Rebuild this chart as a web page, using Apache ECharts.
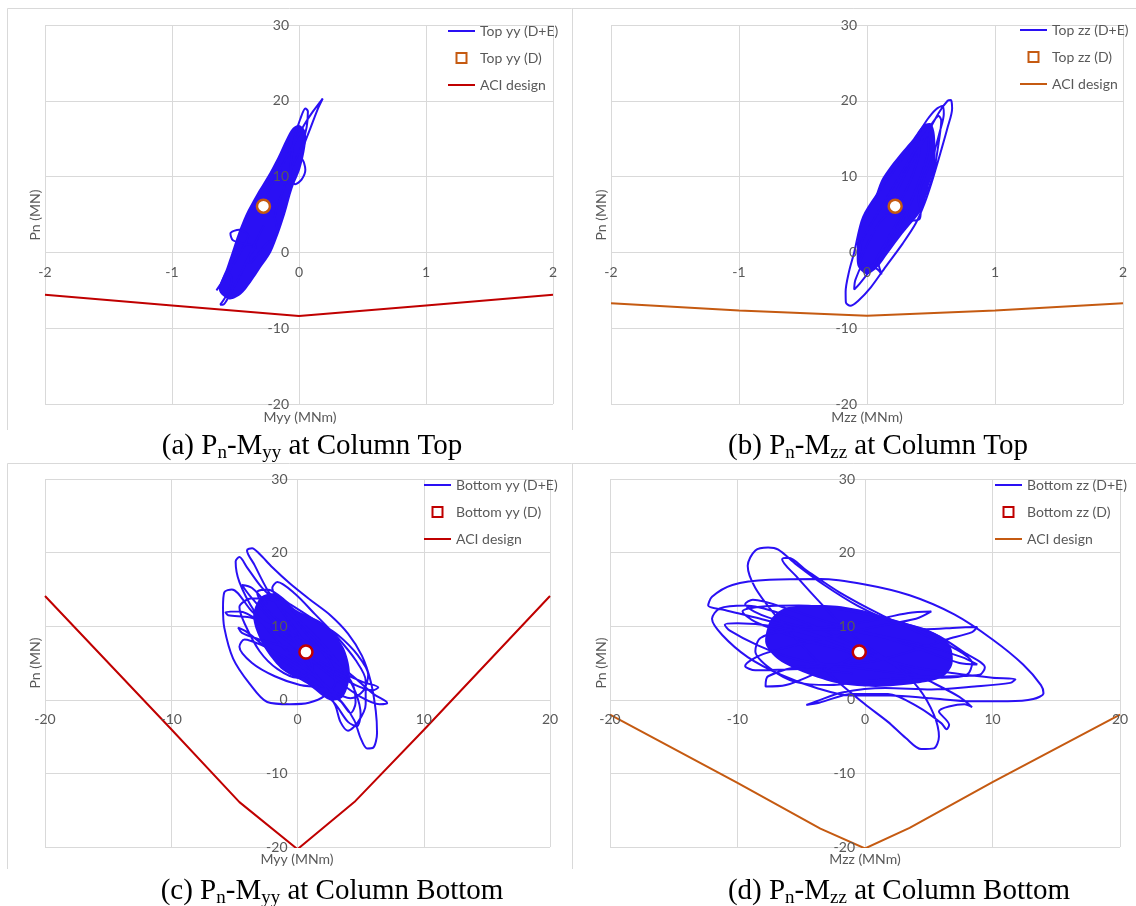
<!DOCTYPE html>
<html>
<head>
<meta charset="utf-8">
<script src="https://cdn.jsdelivr.net/npm/echarts@6/dist/echarts.min.js"></script>
<style>
  html, body { margin: 0; padding: 0; background: #fff; }
  #chart { width: 1136px; height: 906px; }
</style>
</head>
<body>
<div id="chart"></div>
<script>
// axis ranges [min, max, interval]
const xRangeTop = [-2, 2, 1]
const xRangeBottom = [-20, 20, 10]
const yRange = [-20, 30, 10]

// ACI design envelopes
const aciTopYy = [[-2, -5.6], [-1, -7.0], [0, -8.4], [1, -7.0], [2, -5.6]]
const aciTopZz = [[-2, -6.7], [-1, -7.65], [0, -8.35], [1, -7.65], [2, -6.7]]
const aciBottomYy = [[-20, 14.1], [-10, -4.0], [-4.6, -13.9], [0, -20.3], [4.5, -13.9], [10, -4.1], [20, 14.1]]
const aciBottomZz = [[-20, -2.0], [-10, -11.3], [-3.5, -17.5], [0, -20.2], [3.5, -17.4], [10, -11.2], [20, -2.0]]

// dead load points (D)
const topYyDead = [[-0.28, 6.1]]
const topZzDead = [[0.22, 6.1]]
const bottomYyDead = [[0.67, 6.5]]
const bottomZzDead = [[-0.45, 6.5]]

// dense part of the D+E response (outline of the fully inked area)
const topYyCore = [[-0.63, -5.0], [-0.57, -2.0], [-0.53, 0.0], [-0.48, 2.5], [-0.42, 5.0], [-0.34, 7.5], [-0.25, 10.0],
  [-0.17, 12.5], [-0.10, 15.0], [-0.05, 16.4], [0.0, 16.8], [0.05, 16.0], [0.05, 14.0], [0.01, 11.0], [-0.05, 8.5],
  [-0.11, 5.0], [-0.16, 2.5], [-0.22, 0.0], [-0.30, -2.0], [-0.38, -4.0], [-0.46, -5.6], [-0.55, -6.2]]
const topZzCore = [[-0.07, -1.9], [-0.08, 0], [-0.07, 2.5], [-0.02, 5.1], [0.06, 7.3], [0.11, 9.5], [0.18, 11.3],
  [0.28, 13.4], [0.36, 15.0], [0.44, 16.8], [0.50, 17.0], [0.53, 15.5], [0.53, 11.3], [0.48, 8.65], [0.44, 6.0],
  [0.39, 4.7], [0.28, 2.5], [0.165, -0.1], [0.08, -2.0], [0.0, -2.9]]
const bottomYyCore = [[-2.87, 14.0], [-1.68, 14.4], [-0.09, 12.2], [2.03, 10.4], [3.62, 7.2], [4.15, 3.6], [3.62, 0.4],
  [2.56, -0.07], [0.71, 2.2], [-1.15, 4.0], [-2.48, 6.7], [-3.27, 9.45], [-3.5, 11.7]]
const bottomZzCore = [[-5.97, 12.6], [-2.83, 12.85], [-0.22, 12.2], [2.4, 10.8], [5.03, 9.45], [6.6, 7.6], [6.86, 4.9],
  [6.08, 3.1], [3.98, 2.2], [0.84, 1.74], [-2.04, 2.2], [-4.66, 3.6], [-6.76, 5.4], [-7.8, 7.6], [-7.54, 10.4], [-7.0, 11.7]]

// D+E trajectories (loops)
const topYyLoop = [
  [-0.30, 6.0], [-0.18, 10.0], [-0.05, 14.0], [0.04, 16.8], [0.11, 18.6], [0.187, 20.3],
  [0.15, 19.0], [0.09, 16.4], [0.04, 14.2], [0.02, 12.6], [0.04, 11.8], [0.05, 10.9],
  [0.02, 9.6], [-0.03, 9.0], [-0.07, 10.2], [-0.06, 12.5], [-0.03, 15.5], [0.01, 17.6],
  [0.05, 19.0], [0.07, 18.6], [0.06, 16.5], [0.02, 14.0], [-0.06, 11.0], [-0.14, 7.5],
  [-0.19, 4.6], [-0.17, 3.0], [-0.20, 1.9], [-0.27, 0.9], [-0.34, -0.6], [-0.39, -1.4],
  [-0.40, -0.8], [-0.34, 0.8], [-0.42, 1.1], [-0.52, 1.6], [-0.54, 2.5], [-0.47, 3.0],
  [-0.40, 2.2], [-0.48, -0.5], [-0.57, -3.0], [-0.65, -5.0], [-0.63, -4.6], [-0.56, -2.6],
  [-0.53, -3.6], [-0.57, -5.6], [-0.62, -6.9], [-0.60, -6.9], [-0.54, -5.4], [-0.47, -3.2],
  [-0.38, 0.0], [-0.28, 3.5]
]
const topZzLoop = [
  [0.20, 7.0], [0.32, 11.0], [0.45, 15.0], [0.56, 18.4], [0.63, 20.0], [0.655, 20.1], [0.665, 19.0],
  [0.63, 16.5], [0.58, 13.5], [0.51, 9.5], [0.45, 6.5], [0.38, 3.8], [0.28, 1.2], [0.145, -1.9],
  [0.03, -4.6], [-0.07, -6.4], [-0.13, -7.05], [-0.165, -6.6], [-0.167, -5.2], [-0.14, -2.5],
  [-0.10, 0.0], [-0.03, 4.7], [0.12, 8.65], [0.26, 12.0], [0.37, 14.8], [0.47, 17.5], [0.54, 18.9],
  [0.59, 19.3], [0.60, 18.3], [0.57, 16.0], [0.52, 13.0], [0.44, 9.5], [0.40, 7.0], [0.42, 5.5],
  [0.41, 4.4], [0.35, 4.2], [0.30, 5.6], [0.22, 3.5], [0.12, 0.5], [0.03, -2.2], [-0.06, -4.2],
  [-0.10, -4.9], [-0.09, -3.6], [-0.02, -1.5], [0.08, -2.2], [0.115, -2.9], [0.09, -1.4], [0.16, 0.8],
  [0.30, 5.0], [0.42, 10.0], [0.48, 13.8], [0.47, 15.6], [0.43, 15.2], [0.40, 12.5], [0.34, 9.5], [0.25, 6.5],
  [0.10, 4.0], [0.0, 1.0], [-0.06, -1.5], [-0.04, 1.5], [0.06, 4.5], [0.20, 8.5], [0.36, 13.0],
  [0.50, 16.8], [0.56, 18.0], [0.58, 17.4], [0.56, 14.5], [0.52, 10.5], [0.46, 7.5]
]
const bottomYyLoop = [
  [0.5, 8.0], [-1.0, 11.5], [-2.4, 15.0], [-3.4, 18.3], [-4.0, 20.3], [-3.6, 20.6], [-3.0, 19.8],
  [-2.0, 18.0], [-0.6, 15.8], [1.0, 13.6], [2.6, 11.5], [4.0, 9.0], [5.1, 6.0], [5.8, 2.5],
  [6.2, -1.5], [6.3, -4.5], [6.0, -6.5], [5.5, -6.6], [5.0, -5.2], [4.5, -2.8], [3.6, -0.5],
  [2.2, 2.0], [0.4, 4.6], [-1.6, 8.0], [-3.4, 12.0], [-4.6, 16.0], [-4.9, 18.8], [-4.6, 19.4],
  [-4.0, 18.0], [-2.8, 15.2], [-1.2, 12.6], [0.6, 10.0], [2.2, 7.2], [3.6, 4.2], [4.6, 1.0],
  [5.0, -2.0], [4.7, -3.6], [4.0, -3.0], [3.0, -0.6], [1.6, 1.8], [-0.4, 4.4], [-2.4, 7.0],
  [-4.0, 9.2], [-4.7, 9.8], [-4.4, 9.1], [-3.0, 8.2], [-1.0, 7.2], [1.4, 5.6], [3.4, 3.8],
  [5.2, 2.4], [6.4, 1.7], [6.0, 1.3], [4.6, 2.0], [2.4, 4.2], [-0.2, 7.4], [-2.6, 10.2],
  [-4.6, 12.0], [-5.7, 11.9], [-5.5, 11.5], [-3.8, 11.2], [-1.6, 9.8], [0.4, 8.2], [2.4, 6.0],
  [4.4, 3.2], [6.0, 0.8], [7.0, -0.2], [7.1, -0.5], [6.5, -0.6], [5.0, 0.4], [3.0, 2.8],
  [1.0, 5.5], [-1.4, 8.8], [-3.6, 12.0], [-5.2, 15.0], [-5.8, 14.6], [-5.9, 12.5], [-5.8, 9.8],
  [-5.1, 5.6], [-3.8, 2.2], [-2.4, -0.3], [-0.6, -0.6], [0.9, -0.4], [2.2, 0.6], [3.0, 2.4],
  [2.6, 5.0], [1.0, 8.4], [-0.8, 12.2], [-2.0, 15.2], [-1.6, 16.0], [-0.2, 14.4], [1.4, 11.6],
  [3.2, 8.4], [4.6, 5.4], [5.4, 2.6], [5.4, -0.6], [4.8, -3.0], [4.0, -4.2], [3.4, -3.0],
  [3.0, -0.8], [2.0, 2.2], [0.5, 5.5], [-0.5, 9.0], [-2.6, 12.6], [-3.2, 14.6], [-2.4, 15.0],
  [-0.6, 13.0], [1.4, 10.8], [3.2, 8.8], [4.8, 6.0], [5.6, 3.4], [5.2, 1.2], [4.2, 0.2],
  [2.8, 1.2], [1.2, 3.4], [-0.8, 5.6], [-2.8, 7.4], [-4.2, 8.2], [-4.6, 7.2], [-3.6, 5.0],
  [-1.8, 3.2], [0.2, 2.0], [1.8, 1.6], [3.4, -0.2], [4.2, -1.8], [4.6, -0.4], [4.4, 2.0],
  [3.4, 4.6], [1.8, 7.8], [0.0, 11.0], [-1.4, 13.2], [-3.6, 13.8], [-4.6, 12.6], [-4.2, 10.4],
  [-3.0, 6.6], [-1.6, 4.2], [0.0, 3.0], [1.2, 4.4], [0.2, 7.2], [-1.8, 10.4], [-3.8, 14.2],
  [-4.4, 15.6], [-3.6, 15.2], [-2.4, 13.0]
]
const bottomZzLoop = [
  [-1.0, 7.0], [-4.5, 9.2], [-8.2, 11.0], [-11.0, 12.2], [-12.3, 12.8], [-12.0, 14.0], [-10.4, 15.6],
  [-7.5, 16.3], [-3.5, 16.4], [-0.1, 15.7], [3.5, 14.2], [7.0, 11.6], [10.0, 8.2], [12.4, 4.8],
  [13.8, 2.0], [14.0, 0.9], [13.2, 0.1], [11.2, -0.2], [8.4, -0.2], [5.2, 0.2], [2.0, 0.6],
  [-1.2, 0.6], [-3.8, 1.6], [-6.6, 3.4], [-9.2, 5.8], [-11.2, 8.8], [-12.0, 11.0], [-11.4, 12.4],
  [-9.4, 12.8], [-6.4, 11.6], [-3.2, 9.4], [-0.2, 7.0], [2.4, 4.6], [4.2, 1.6], [5.4, -2.0],
  [5.8, -5.0], [5.4, -6.6], [4.4, -6.7], [3.2, -5.2], [1.8, -3.0], [0.0, -0.6], [-2.2, 2.6],
  [-4.4, 6.4], [-6.8, 11.0], [-8.6, 15.2], [-9.2, 18.2], [-8.6, 20.3], [-7.6, 20.7], [-6.8, 20.4],
  [-5.4, 18.4], [-3.2, 15.6], [-0.6, 12.8], [2.2, 10.6], [4.8, 9.6], [7.2, 9.8], [8.8, 9.9],
  [8.4, 9.2], [6.4, 8.2], [3.6, 6.6], [0.6, 5.2], [-2.6, 4.8], [-5.6, 5.6], [-8.4, 7.4],
  [-10.6, 9.4], [-11.0, 10.2], [-10.0, 10.4], [-7.2, 10.0], [-3.8, 8.6], [-0.2, 6.4], [3.4, 4.6],
  [7.0, 3.6], [10.0, 3.0], [11.8, 2.8], [11.4, 2.3], [8.6, 1.8], [5.2, 1.4], [1.6, 1.6],
  [-1.8, 1.0], [-3.8, -0.2], [-4.6, -0.7], [-3.6, -0.4], [-1.0, 0.8], [1.8, 0.8], [4.2, -1.0],
  [6.0, -3.2], [6.4, -4.0], [6.6, -3.4], [5.8, -1.6], [7.8, -0.6], [8.4, -1.0], [7.4, 0.4],
  [5.0, 2.6], [2.0, 5.2], [-1.0, 8.8], [-3.4, 13.0], [-5.4, 16.8], [-6.5, 19.1], [-6.0, 19.3],
  [-4.6, 17.6], [-2.0, 14.6], [1.2, 11.6], [4.4, 9.0], [7.0, 7.0], [8.4, 5.0], [8.0, 3.4],
  [6.0, 3.0], [2.6, 3.6], [-1.0, 4.4], [-4.6, 4.6], [-7.6, 3.2], [-7.8, 1.8], [-6.2, 2.0],
  [-3.6, 3.8], [-1.0, 6.0], [-5.0, 8.2], [-8.6, 10.6], [-9.6, 12.0], [-8.4, 12.6], [-5.2, 12.8],
  [-1.6, 12.2], [2.2, 10.8], [5.6, 8.8], [7.8, 6.4], [9.4, 4.4], [9.0, 3.4], [6.8, 3.2],
  [3.6, 3.0], [0.4, 2.6], [-2.8, 2.0], [-5.4, 2.4], [-7.4, 4.2], [-8.6, 6.6], [-8.2, 8.4],
  [-6.0, 9.4], [-2.6, 9.6], [1.2, 8.6], [4.8, 6.6], [7.4, 5.0], [8.8, 4.8], [7.6, 5.8],
  [4.2, 7.6], [0.4, 9.0], [-3.0, 10.6], [-5.8, 12.2], [-8.8, 13.6], [-9.4, 13.0], [-7.6, 11.2],
  [-4.0, 9.8], [0.0, 10.6], [3.4, 11.8], [5.2, 12.0], [4.0, 11.0], [0.4, 9.8], [-4.0, 8.0],
  [-8.0, 6.2], [-9.4, 4.6], [-8.6, 4.0], [-5.0, 4.2], [-1.0, 3.6]
]

const BLUE = '#2a10f4'
const RED = '#c00000'
const ORANGE = '#c55a11'
const GRID_COLOR = '#d9d9d9'
const TEXT_COLOR = '#595959'
const FONT = 'Lato, "Open Sans", sans-serif'
const SERIF = '"Liberation Serif", "Times New Roman", serif'
const LINE_ICON = 'path://M0,0H27V2H0Z'
const SQUARE_ICON = 'path://M0,0H10V10H0Z'

const panels = [
  {
    loop: topYyLoop, core: topYyCore, dead: topYyDead, aci: aciTopYy, xRange: xRangeTop,
    names: ['Top yy (D+E)', 'Top yy (D)', 'ACI design'], deadColor: ORANGE, aciColor: RED,
    grid: { left: 45, top: 25, width: 508, height: 379 }, legend: { left: 448, top: 24 },
    xName: 'Myy (MNm)', xNamePos: [300, 417], yNamePos: [35, 215],
    caption: ['a', 'yy', 'Top'], captionPos: [312, 446]
  },
  {
    loop: topZzLoop, core: topZzCore, dead: topZzDead, aci: aciTopZz, xRange: xRangeTop,
    names: ['Top zz (D+E)', 'Top zz (D)', 'ACI design'], deadColor: ORANGE, aciColor: ORANGE,
    grid: { left: 611, top: 25, width: 512, height: 379 }, legend: { left: 1020, top: 23 },
    xName: 'Mzz (MNm)', xNamePos: [867, 417], yNamePos: [601, 215],
    caption: ['b', 'zz', 'Top'], captionPos: [878, 446]
  },
  {
    loop: bottomYyLoop, core: bottomYyCore, dead: bottomYyDead, aci: aciBottomYy, xRange: xRangeBottom,
    names: ['Bottom yy (D+E)', 'Bottom yy (D)', 'ACI design'], deadColor: RED, aciColor: RED,
    grid: { left: 45, top: 479, width: 505, height: 368 }, legend: { left: 424, top: 478 },
    xName: 'Myy (MNm)', xNamePos: [297, 859], yNamePos: [35, 663],
    caption: ['c', 'yy', 'Bottom'], captionPos: [332, 891]
  },
  {
    loop: bottomZzLoop, core: bottomZzCore, dead: bottomZzDead, aci: aciBottomZz, xRange: xRangeBottom,
    names: ['Bottom zz (D+E)', 'Bottom zz (D)', 'ACI design'], deadColor: RED, aciColor: ORANGE,
    grid: { left: 610, top: 479, width: 510, height: 368 }, legend: { left: 995, top: 478 },
    xName: 'Mzz (MNm)', xNamePos: [865, 859], yNamePos: [601, 663],
    caption: ['d', 'zz', 'Bottom'], captionPos: [899, 891]
  }
]

function coreRenderer(points) {
  return function (params, api) {
    if (params.dataIndex !== 0) return null
    return {
      type: 'polygon',
      shape: { points: points.map(p => api.coord(p)), smooth: 0.3 },
      style: { fill: BLUE }
    }
  }
}

function borderLine(x1, y1, x2, y2) {
  return { type: 'line', silent: true, shape: { x1, y1, x2, y2 }, style: { stroke: GRID_COLOR, lineWidth: 1 } }
}

const option = {
  backgroundColor: '#fff',
  animation: false,
  grid: [], xAxis: [], yAxis: [], legend: [], series: [],
  graphic: [
    borderLine(7.5, 8.5, 1136, 8.5), borderLine(7.5, 8.5, 7.5, 430), borderLine(572.5, 8.5, 572.5, 430),
    borderLine(7.5, 463.5, 1136, 463.5), borderLine(7.5, 463.5, 7.5, 869), borderLine(572.5, 463.5, 572.5, 869)
  ]
}

panels.forEach((p, i) => {
  option.grid.push(p.grid)

  const xBase = { type: 'value', gridIndex: i, min: p.xRange[0], max: p.xRange[1], interval: p.xRange[2], position: 'bottom' }
  const yBase = { type: 'value', gridIndex: i, min: yRange[0], max: yRange[1], interval: yRange[2], position: 'left' }
  // Excel-style axes cross at zero: shift the label axes from the grid edge to the zero line
  const xOffset = -p.grid.height * (0 - yRange[0]) / (yRange[1] - yRange[0])
  const yOffset = -p.grid.width * (0 - p.xRange[0]) / (p.xRange[1] - p.xRange[0])
  const labels = (margin, offset) => ({
    z: 4, offset: offset,
    axisLine: { show: false, onZero: false }, axisTick: { show: false }, splitLine: { show: false },
    axisLabel: { color: TEXT_COLOR, fontFamily: FONT, fontSize: 14, margin: margin }
  })
  // grid lines stay under the data
  const lines = {
    z: 0,
    axisLine: { show: false, onZero: false }, axisTick: { show: false }, axisLabel: { show: false },
    splitLine: { lineStyle: { color: GRID_COLOR } }
  }
  option.xAxis.push(Object.assign({}, xBase, labels(13, xOffset)), Object.assign({}, xBase, lines))
  option.yAxis.push(Object.assign({}, yBase, labels(10, yOffset)), Object.assign({}, yBase, lines))

  option.legend.push({
    left: p.legend.left, top: p.legend.top, orient: 'vertical', padding: 0,
    itemGap: 13, itemWidth: 27, itemHeight: 10, symbolKeepAspect: true,
    textStyle: { color: TEXT_COLOR, fontFamily: FONT, fontSize: 14, lineHeight: 14 },
    data: [
      { name: p.names[0], icon: LINE_ICON, itemStyle: { color: BLUE, borderWidth: 0 } },
      { name: p.names[1], icon: SQUARE_ICON, itemStyle: { color: '#fff', borderColor: p.deadColor, borderWidth: 2, opacity: 1 } },
      { name: p.names[2], icon: LINE_ICON, itemStyle: { color: p.aciColor, borderWidth: 0 } }
    ]
  })

  const ax = { xAxisIndex: 2 * i, yAxisIndex: 2 * i }
  option.series.push(
    Object.assign({
      type: 'line', name: p.names[2], data: p.aci, symbol: 'none', silent: true, z: 2,
      lineStyle: { color: p.aciColor, width: 2 }, itemStyle: { color: p.aciColor }
    }, ax),
    Object.assign({
      type: 'custom', name: 'core ' + i, data: p.core, renderItem: coreRenderer(p.core), silent: true, z: 3
    }, ax),
    Object.assign({
      type: 'line', name: p.names[0], data: p.loop, symbol: 'none', smooth: 0.3, silent: true, z: 3,
      lineStyle: { color: BLUE, width: 2 }, itemStyle: { color: BLUE }
    }, ax),
    Object.assign({
      type: 'scatter', name: p.names[1], data: p.dead, symbol: 'circle', symbolSize: 13, silent: true, z: 5,
      itemStyle: { color: '#fff', borderColor: p.deadColor, borderWidth: 2.5, opacity: 1 }
    }, ax)
  )

  option.graphic.push(
    {
      type: 'text', x: p.xNamePos[0], y: p.xNamePos[1], silent: true,
      style: { text: p.xName, fill: TEXT_COLOR, font: '14px ' + FONT, align: 'center', verticalAlign: 'middle' }
    },
    {
      type: 'text', x: p.yNamePos[0], y: p.yNamePos[1], rotation: Math.PI / 2, silent: true,
      style: { text: 'Pn (MN)', fill: TEXT_COLOR, font: '14px ' + FONT, align: 'center', verticalAlign: 'middle' }
    },
    {
      type: 'text', x: p.captionPos[0], y: p.captionPos[1], silent: true, z: 10,
      style: {
        text: '(' + p.caption[0] + ') P{s|n}-M{s|' + p.caption[1] + '} at Column ' + p.caption[2],
        fill: '#000', font: '29px ' + SERIF, lineHeight: 33, align: 'center', verticalAlign: 'middle',
        rich: { s: { fontSize: 19, fontFamily: SERIF, fill: '#000', verticalAlign: 'bottom', lineHeight: 33 } }
      }
    }
  )
})

const chart = echarts.init(document.getElementById('chart'))
chart.setOption(option)
</script>
</body>
</html>
